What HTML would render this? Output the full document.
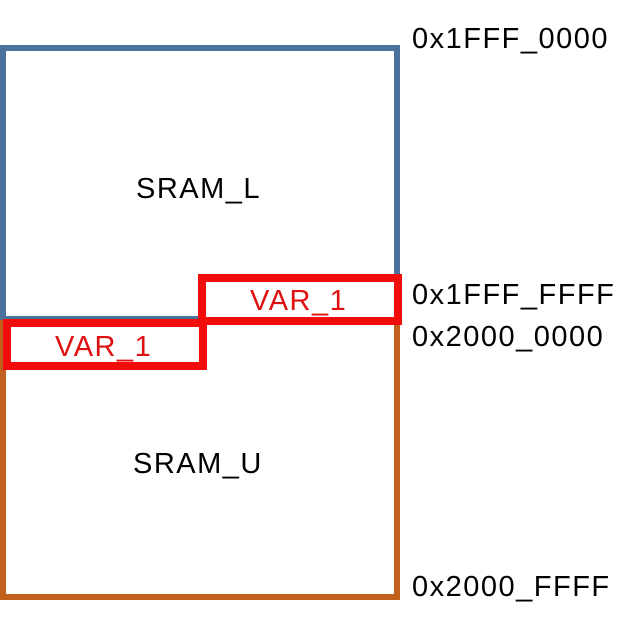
<!DOCTYPE html>
<html><head><style>
body{margin:0;width:641px;height:631px;background:#fff;position:relative;overflow:hidden;font-family:"Liberation Sans",sans-serif}
div{position:absolute;box-sizing:border-box}
.t{font-size:29px;letter-spacing:1.5px;color:#000;white-space:nowrap;line-height:1}
</style></head><body>
<div style="left:0;top:45px;width:400px;height:276px;border:6px solid #4a729c;border-bottom-width:5px"></div>
<div style="left:0;top:320px;width:400px;height:280px;border:6px solid #c2601d;border-top:none"></div>
<div style="left:198px;top:274px;width:204px;height:51px;border:8px solid #f20d0d;background:#fff"></div>
<div style="left:3px;top:319px;width:204px;height:51px;border:8px solid #f20d0d;background:#fff"></div>
<div class="t" style="left:136px;top:175px">SRAM_L</div>
<div class="t" style="left:133px;top:450px">SRAM_U</div>
<div class="t" style="left:250px;top:287px;color:#e01010">VAR_1</div>
<div class="t" style="left:55px;top:333px;color:#e01010">VAR_1</div>
<div class="t" style="left:412px;top:25px">0x1FFF_0000</div>
<div class="t" style="left:412px;top:281px">0x1FFF_FFFF</div>
<div class="t" style="left:412px;top:323px">0x2000_0000</div>
<div class="t" style="left:412px;top:573px">0x2000_FFFF</div>
</body></html>
